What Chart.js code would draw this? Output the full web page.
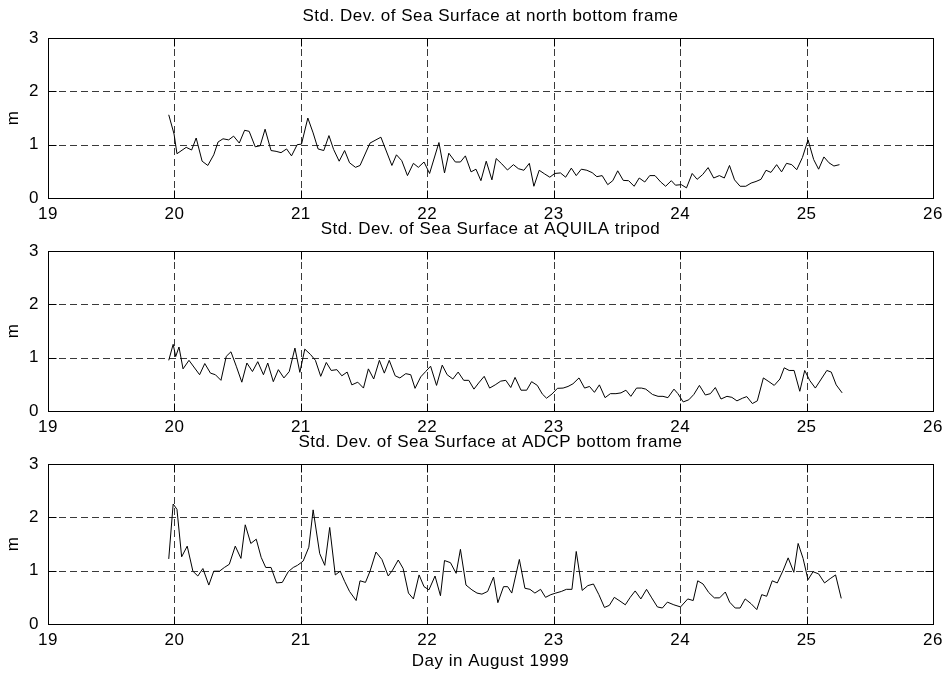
<!DOCTYPE html>
<html><head><meta charset="utf-8">
<script src="https://cdn.jsdelivr.net/npm/chart.js@4.4.1/dist/chart.umd.min.js"></script>
<style>
html,body{margin:0;padding:0;background:#fff;overflow:hidden}
#wrap{position:relative;width:951px;height:679px;background:#fff}
canvas{position:absolute;left:0}
</style></head><body>
<div id="wrap">
<canvas id="c1" width="951" height="220" style="top:8px"></canvas>
<canvas id="c2" width="951" height="220" style="top:221px"></canvas>
<canvas id="c3" width="951" height="245" style="top:434px"></canvas>
</div>
<script>
const xTicks = [19, 20, 21, 22, 23, 24, 25, 26];
const yTicks = [0, 1, 2, 3];
const titles = [
  'Std. Dev. of Sea Surface at north bottom frame',
  'Std. Dev. of Sea Surface at AQUILA tripod',
  'Std. Dev. of Sea Surface at ADCP bottom frame'
];
const xLabel = 'Day in August 1999';
const yLabel = 'm';

const northDays = [19.955,19.997,20.02,20.093,20.136,20.172,20.219,20.264,20.311,20.345,20.384,20.429,20.468,20.513,20.555,20.591,20.639,20.678,20.717,20.764,20.804,20.843,20.887,20.926,20.971,21.005,21.055,21.097,21.136,21.181,21.222,21.259,21.303,21.346,21.385,21.432,21.468,21.547,21.633,21.720,21.756,21.798,21.843,21.890,21.929,21.974,22.018,22.092,22.136,22.170,22.222,22.262,22.301,22.346,22.385,22.424,22.466,22.511,22.545,22.589,22.634,22.681,22.720,22.764,22.807,22.843,22.885,22.929,22.969,23.008,23.053,23.094,23.139,23.178,23.218,23.262,23.304,23.341,23.383,23.427,23.467,23.506,23.550,23.592,23.636,23.676,23.720,23.759,23.801,23.846,23.885,23.930,23.963,24.009,24.050,24.095,24.134,24.178,24.221,24.265,24.310,24.349,24.390,24.430,24.474,24.519,24.561,24.600,24.639,24.679,24.718,24.763,24.802,24.841,24.883,24.922,24.967,25.011,25.056,25.095,25.137,25.177,25.216,25.260];
const northVals = [1.56,1.20,0.83,0.95,0.90,1.125,0.69,0.61,0.81,1.05,1.11,1.09,1.16,1.03,1.27,1.25,0.96,0.98,1.29,0.89,0.875,0.85,0.92,0.79,1.00,1.01,1.50,1.22,0.92,0.89,1.17,0.91,0.69,0.89,0.66,0.575,0.61,1.03,1.14,0.61,0.81,0.70,0.42,0.65,0.575,0.675,0.46,1.04,0.47,0.84,0.675,0.675,0.79,0.49,0.54,0.325,0.69,0.34,0.74,0.64,0.525,0.625,0.55,0.52,0.65,0.22,0.52,0.45,0.39,0.46,0.47,0.39,0.56,0.42,0.54,0.52,0.475,0.40,0.42,0.25,0.325,0.51,0.33,0.325,0.22,0.375,0.30,0.42,0.42,0.30,0.22,0.325,0.24,0.25,0.19,0.46,0.35,0.44,0.57,0.375,0.42,0.375,0.61,0.34,0.22,0.22,0.28,0.31,0.35,0.52,0.48,0.625,0.49,0.65,0.625,0.53,0.76,1.09,0.72,0.54,0.77,0.66,0.60,0.625];

const aquilaDays = [19.955,19.99,20.01,20.036,20.068,20.115,20.154,20.199,20.240,20.285,20.324,20.368,20.410,20.447,20.489,20.533,20.573,20.617,20.659,20.704,20.738,20.782,20.822,20.866,20.908,20.953,20.992,21.031,21.076,21.115,21.157,21.201,21.240,21.285,21.324,21.366,21.403,21.450,21.495,21.534,21.576,21.621,21.660,21.699,21.746,21.783,21.830,21.869,21.903,21.948,21.987,22.026,22.073,22.118,22.157,22.202,22.244,22.288,22.328,22.369,22.406,22.450,22.493,22.537,22.581,22.621,22.660,22.694,22.741,22.786,22.825,22.870,22.909,22.943,22.987,23.029,23.074,23.113,23.152,23.200,23.244,23.283,23.322,23.361,23.406,23.448,23.492,23.532,23.571,23.610,23.655,23.694,23.728,23.781,23.825,23.864,23.903,23.951,23.982,24.024,24.068,24.108,24.152,24.199,24.239,24.278,24.323,24.370,24.409,24.449,24.493,24.527,24.571,24.610,24.658,24.702,24.744,24.789,24.823,24.862,24.901,24.946,24.985,25.024,25.069,25.116,25.160,25.195,25.234,25.281];
const aquilaVals = [0.95,1.25,1.02,1.20,0.79,0.95,0.825,0.68,0.89,0.71,0.68,0.575,1.025,1.11,0.84,0.54,0.90,0.74,0.925,0.68,0.90,0.55,0.775,0.62,0.74,1.18,0.725,1.16,1.06,0.95,0.65,0.91,0.76,0.775,0.66,0.73,0.49,0.54,0.43,0.79,0.60,0.95,0.71,0.95,0.66,0.62,0.70,0.68,0.425,0.64,0.74,0.84,0.48,0.86,0.68,0.60,0.73,0.575,0.575,0.41,0.525,0.65,0.43,0.49,0.56,0.575,0.44,0.63,0.39,0.39,0.55,0.48,0.32,0.24,0.32,0.425,0.43,0.46,0.51,0.62,0.43,0.46,0.35,0.49,0.25,0.325,0.325,0.34,0.39,0.275,0.43,0.43,0.41,0.31,0.275,0.275,0.25,0.41,0.325,0.17,0.21,0.31,0.48,0.30,0.325,0.44,0.225,0.275,0.256,0.19,0.24,0.27,0.14,0.19,0.62,0.55,0.48,0.60,0.81,0.76,0.76,0.37,0.76,0.575,0.43,0.60,0.76,0.73,0.49,0.34];

const adcpDays = [19.955,19.99,20.02,20.057,20.101,20.146,20.185,20.225,20.272,20.311,20.356,20.395,20.434,20.481,20.526,20.560,20.604,20.647,20.686,20.722,20.764,20.808,20.853,20.900,20.940,20.973,21.018,21.063,21.097,21.149,21.189,21.228,21.272,21.311,21.346,21.385,21.437,21.468,21.511,21.547,21.594,21.641,21.691,21.725,21.770,21.809,21.851,21.890,21.935,21.974,22.013,22.061,22.104,22.136,22.183,22.228,22.262,22.306,22.353,22.393,22.432,22.477,22.524,22.558,22.603,22.636,22.668,22.728,22.772,22.812,22.851,22.896,22.935,22.977,23.016,23.060,23.100,23.144,23.178,23.225,23.270,23.314,23.357,23.401,23.440,23.479,23.524,23.566,23.605,23.644,23.689,23.734,23.775,23.820,23.859,23.899,23.950,24.003,24.060,24.103,24.139,24.181,24.226,24.270,24.312,24.357,24.391,24.435,24.474,24.514,24.561,24.606,24.645,24.684,24.728,24.768,24.815,24.854,24.899,24.933,24.972,25.011,25.051,25.095,25.142,25.186,25.229,25.274];
const adcpVals = [1.22,2.25,2.15,1.26,1.46,0.99,0.90,1.04,0.73,0.99,0.99,1.06,1.12,1.46,1.23,1.86,1.51,1.59,1.25,1.06,1.06,0.77,0.78,0.98,1.06,1.10,1.18,1.44,2.14,1.32,1.10,1.81,0.92,0.99,0.80,0.61,0.44,0.81,0.78,0.99,1.35,1.21,0.90,1.01,1.20,1.04,0.58,0.47,0.92,0.70,0.64,0.90,0.53,1.19,1.15,0.95,1.40,0.73,0.64,0.58,0.56,0.61,0.88,0.40,0.70,0.70,0.58,1.21,0.67,0.65,0.58,0.65,0.50,0.55,0.58,0.61,0.65,0.65,1.36,0.63,0.72,0.75,0.55,0.31,0.35,0.50,0.43,0.36,0.50,0.62,0.47,0.65,0.49,0.32,0.30,0.41,0.36,0.32,0.47,0.44,0.81,0.75,0.59,0.49,0.49,0.60,0.41,0.30,0.30,0.47,0.38,0.27,0.55,0.52,0.81,0.77,1.01,1.24,0.97,1.51,1.23,0.83,0.98,0.94,0.77,0.85,0.92,0.48];

const FONT = {family: "'Liberation Sans', Arial, Helvetica, sans-serif", size: 17, weight: 'normal', lineHeight: 1};
const GRID_COLOR = '#3a3a3a';
const LETTER_SPACING = '0.5px';

const framePlugin = {
  id: 'frame',
  beforeLayout(chart) { chart.ctx.letterSpacing = LETTER_SPACING; },
  beforeDraw(chart) { chart.ctx.letterSpacing = LETTER_SPACING; },
  beforeDatasetsDraw(chart) {
    const {ctx, chartArea: a, scales: {x, y}} = chart;
    ctx.save();
    ctx.strokeStyle = GRID_COLOR;
    ctx.lineWidth = 1;
    ctx.setLineDash([7, 4]);
    xTicks.slice(1, -1).forEach(v => {
      const px = Math.round(x.getPixelForValue(v)) + 0.5;
      ctx.beginPath(); ctx.moveTo(px, a.top); ctx.lineTo(px, a.bottom); ctx.stroke();
    });
    yTicks.slice(1, -1).forEach(v => {
      const py = Math.round(y.getPixelForValue(v)) + 0.5;
      ctx.beginPath(); ctx.moveTo(a.left, py); ctx.lineTo(a.right, py); ctx.stroke();
    });
    ctx.restore();
  },
  afterDraw(chart) {
    const {ctx, chartArea: a, scales: {x, y}} = chart;
    const L = Math.round(a.left) + 0.5, R = Math.round(a.right) + 0.5;
    const T = Math.round(a.top) + 0.5, B = Math.round(a.bottom) + 0.5;
    const tl = 8;
    ctx.save();
    ctx.strokeStyle = '#000';
    ctx.lineWidth = 1;
    ctx.setLineDash([]);
    ctx.strokeRect(L, T, R - L, B - T);
    ctx.beginPath();
    xTicks.forEach(v => {
      const px = Math.round(x.getPixelForValue(v)) + 0.5;
      ctx.moveTo(px, B); ctx.lineTo(px, B - tl);
      ctx.moveTo(px, T); ctx.lineTo(px, T + tl);
    });
    yTicks.forEach(v => {
      const py = Math.round(y.getPixelForValue(v)) + 0.5;
      ctx.moveTo(L, py); ctx.lineTo(L + tl, py);
      ctx.moveTo(R, py); ctx.lineTo(R - tl, py);
    });
    ctx.stroke();
    ctx.restore();
  }
};

function makeChart(id, days, vals, title, withXLabel) {
  const data = days.map((d, i) => ({x: d, y: vals[i]}));
  return new Chart(document.getElementById(id), {
    type: 'line',
    data: {datasets: [{data, borderColor: '#000', borderWidth: 1, pointRadius: 0, tension: 0, fill: false}]},
    plugins: [framePlugin],
    options: {
      responsive: false,
      animation: false,
      events: [],
      layout: {padding: {left: 0, right: 12, top: 0, bottom: 0}},
      plugins: {
        legend: {display: false},
        tooltip: {enabled: false},
        title: {display: true, text: title, fullSize: false, align: 'center', color: '#000', font: FONT, padding: {top: 0, bottom: 13}}
      },
      scales: {
        x: {
          type: 'linear', min: xTicks[0], max: xTicks[xTicks.length - 1],
          afterBuildTicks: s => { s.ticks = xTicks.map(v => ({value: v})); },
          grid: {display: false, drawTicks: false},
          border: {display: false},
          ticks: {color: '#000', font: FONT, padding: 8, maxRotation: 0, autoSkip: false, callback: v => String(v)},
          title: {display: withXLabel, text: xLabel, color: '#000', font: FONT, padding: {top: 0, bottom: 9}},
          afterFit: s => { s.height = withXLabel ? 55 : 30; }
        },
        y: {
          type: 'linear', min: yTicks[0], max: yTicks[yTicks.length - 1],
          afterBuildTicks: s => { s.ticks = yTicks.map(v => ({value: v})); },
          grid: {display: false, drawTicks: false},
          border: {display: false},
          ticks: {color: '#000', font: FONT, padding: 9, callback: v => String(v)},
          title: {display: true, text: yLabel, color: '#000', font: FONT, padding: {top: 5, bottom: 0}},
          afterFit: s => { s.width = 48; }
        }
      }
    }
  });
}

makeChart('c1', northDays, northVals, titles[0], false);
makeChart('c2', aquilaDays, aquilaVals, titles[1], false);
makeChart('c3', adcpDays, adcpVals, titles[2], true);
</script>
</body></html>
